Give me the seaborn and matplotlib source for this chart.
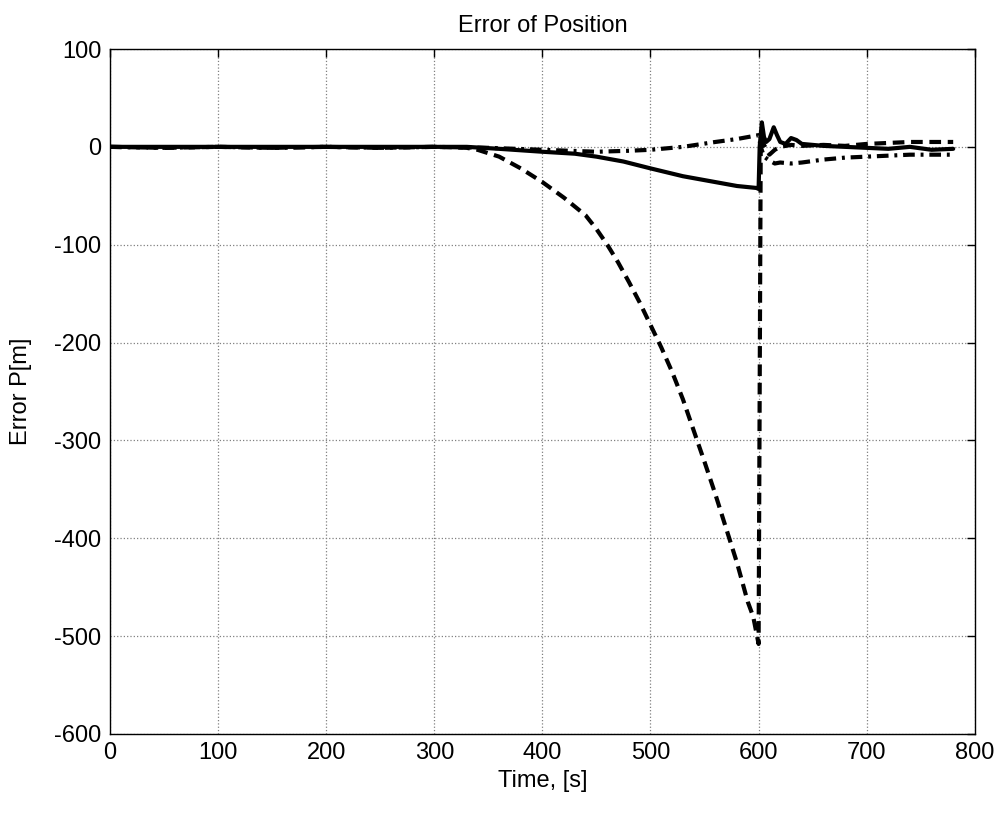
import matplotlib
matplotlib.use("Agg")
import matplotlib.pyplot as plt
import seaborn as sns

# ---- data ----
t_solid = [0, 50, 100, 150, 200, 250, 300, 330, 360, 400, 430, 450, 475, 500, 530,
           560, 580, 598, 600, 601, 603, 605, 607, 610, 614, 617, 620, 625, 630, 635,
           640, 650, 660, 680, 700, 720, 740, 760, 780]
e_solid = [0, 0, 0, 0, 0, 0, 0, 0, -2, -5, -7, -10, -15, -22, -30,
           -36, -40, -42, -43, 0, 25, 10, 5, 8, 20, 12, 5, 3, 9, 7,
           3, 2, 1, 0, -1, -2, 0, -3, -2]

t_dash = [0, 50, 100, 150, 200, 250, 300, 330, 340, 360, 380, 400, 420, 440, 450,
          460, 470, 480, 490, 500, 510, 520, 530, 540, 550, 560, 570, 580, 590, 595,
          600, 602, 605, 610, 615, 620, 630, 640, 660, 680, 700, 720, 740, 760, 780]
e_dash = [0, -1, 0, -1, 0, -1, 0, -1, -3, -10, -22, -36, -52, -70, -84,
          -100, -118, -138, -159, -182, -205, -230, -258, -290, -322, -355, -390, -425, -465, -480,
          -508, 10, 2, -8, -3, 0, 2, 1, 2, 1, 3, 4, 5, 5, 5]

t_dashdot = [0, 50, 100, 150, 200, 250, 300, 350, 400, 450, 480, 500, 530, 560, 580,
             600, 602, 605, 610, 615, 620, 630, 640, 660, 680, 700, 720, 740, 760, 780]
e_dashdot = [0, -1, 0, -1, 0, -1, 0, -1, -3, -5, -4, -3, 0, 5, 8,
             12, 0, -10, -14, -17, -16, -17, -16, -13, -11, -10, -9, -8, -8, -8]

x_ticks = [0, 100, 200, 300, 400, 500, 600, 700, 800]
y_ticks = [-600, -500, -400, -300, -200, -100, 0, 100]

title = "Error of Position"
x_label = "Time, [s]"
y_label = "Error P[m]"

# ---- style ----
sns.set_style("white")
plt.rcParams['font.family'] = ['Liberation Sans', 'DejaVu Sans']
plt.rcParams['axes.unicode_minus'] = False
plt.rcParams['text.color'] = 'black'
plt.rcParams['axes.labelcolor'] = 'black'

fig = plt.figure(figsize=(10.06, 8.14), dpi=100)
ax = fig.add_axes([0.1093, 0.0983, 0.8597, 0.8415])

lw = 3.0
sns.lineplot(x=t_dash, y=e_dash, ax=ax, color="black", lw=lw,
             linestyle=(0, (2.8, 1.6)), estimator=None, sort=False)
sns.lineplot(x=t_dashdot, y=e_dashdot, ax=ax, color="black", lw=lw,
             linestyle=(0, (2.8, 1.4, 0.7, 1.4)), estimator=None, sort=False)
sns.lineplot(x=t_solid, y=e_solid, ax=ax, color="black", lw=lw,
             linestyle="-", estimator=None, sort=False)

ax.set_xlim(0, 800)
ax.set_ylim(-600, 100)
ax.set_xticks(x_ticks)
ax.set_yticks(y_ticks)
ax.grid(True, linestyle=":", color="#808080", lw=0.9)
ax.set_axisbelow(True)
ax.tick_params(direction="in", length=6, width=1, top=True, right=True,
               labelsize=17, colors="black", pad=6)
for s in ax.spines.values():
    s.set_visible(True)
    s.set_color("black")
    s.set_linewidth(1.0)

ax.set_title(title, fontsize=17, pad=12, color="black")
ax.set_xlabel(x_label, fontsize=17, labelpad=4, color="black")
ax.set_ylabel(y_label, fontsize=17, labelpad=16, color="black")

fig.savefig("out.png", dpi=100)
